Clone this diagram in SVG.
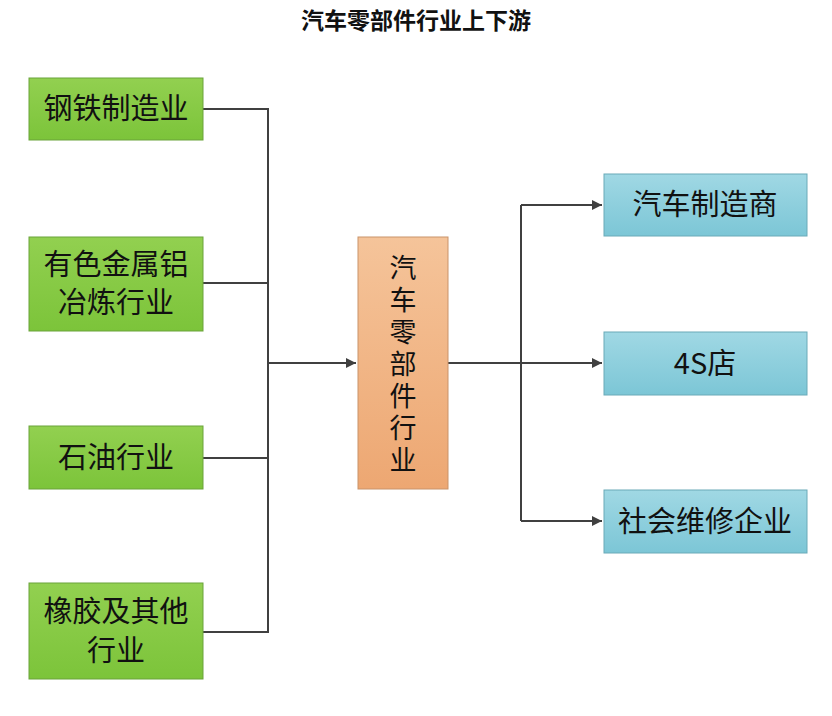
<svg xmlns="http://www.w3.org/2000/svg" width="832" height="716" viewBox="0 0 832 716">
<defs>
<linearGradient id="g" x1="0" y1="0" x2="0" y2="1"><stop offset="0" stop-color="#92d050"/><stop offset="1" stop-color="#7cc43a"/></linearGradient>
<linearGradient id="o" x1="0" y1="0" x2="0" y2="1"><stop offset="0" stop-color="#f5c49a"/><stop offset="1" stop-color="#eda772"/></linearGradient>
<linearGradient id="b" x1="0" y1="0" x2="0" y2="1"><stop offset="0" stop-color="#a0d8e4"/><stop offset="1" stop-color="#7cc6d6"/></linearGradient>
<marker id="a" viewBox="0 0 10 10" refX="10" refY="5" markerWidth="5" markerHeight="5" orient="auto"><path d="M0,0L10,5L0,10z" fill="#404040"/></marker>
</defs>
<style>
text{font-family:"Noto Sans CJK SC","Liberation Sans",sans-serif;fill:#111;text-anchor:middle}
.n{font-size:29px}
.v{font-size:27px;writing-mode:vertical-rl;letter-spacing:5px}
.g{fill:url(#g);stroke:#6aa33a}
.o{fill:url(#o);stroke:#c9936a}
.b{fill:url(#b);stroke:#6aaab8}
.c{fill:none;stroke:#404040;stroke-width:2}
</style>
<rect width="832" height="716" fill="#fff"/>
<text x="416" y="29" style="font-size:23px;font-weight:bold">汽车零部件行业上下游</text>
<g id="connectors">
<path class="c" d="M203,109H268V632H203M203,283H268M203,458H268"/>
<path class="c" d="M268,363H356" marker-end="url(#a)"/>
<path class="c" d="M448,363H602" marker-end="url(#a)"/>
<path class="c" d="M521,205V521"/>
<path class="c" d="M521,205H602" marker-end="url(#a)"/>
<path class="c" d="M521,521H602" marker-end="url(#a)"/>
</g>
<g id="n1"><rect class="g" x="29" y="78" width="174" height="62"/><text class="n" x="116" y="119">钢铁制造业</text></g>
<g id="n2"><rect class="g" x="29" y="237" width="174" height="94"/><text class="n" x="116" y="275">有色金属铝</text><text class="n" x="116" y="313">冶炼行业</text></g>
<g id="n3"><rect class="g" x="29" y="426" width="174" height="63"/><text class="n" x="116" y="468">石油行业</text></g>
<g id="n4"><rect class="g" x="29" y="583" width="174" height="96"/><text class="n" x="116" y="622">橡胶及其他</text><text class="n" x="116" y="661">行业</text></g>
<g id="center"><rect class="o" x="358" y="237" width="90" height="252"/>
<text class="v" x="403" y="366">汽车零部件行业</text></g>
<g id="r1"><rect class="b" x="604" y="174" width="203" height="62"/><text class="n" x="705" y="215">汽车制造商</text></g>
<g id="r2"><rect class="b" x="604" y="332" width="203" height="63"/><text class="n" x="705" y="374">4S店</text></g>
<g id="r3"><rect class="b" x="604" y="490" width="203" height="63"/><text class="n" x="705" y="532">社会维修企业</text></g>
</svg>
